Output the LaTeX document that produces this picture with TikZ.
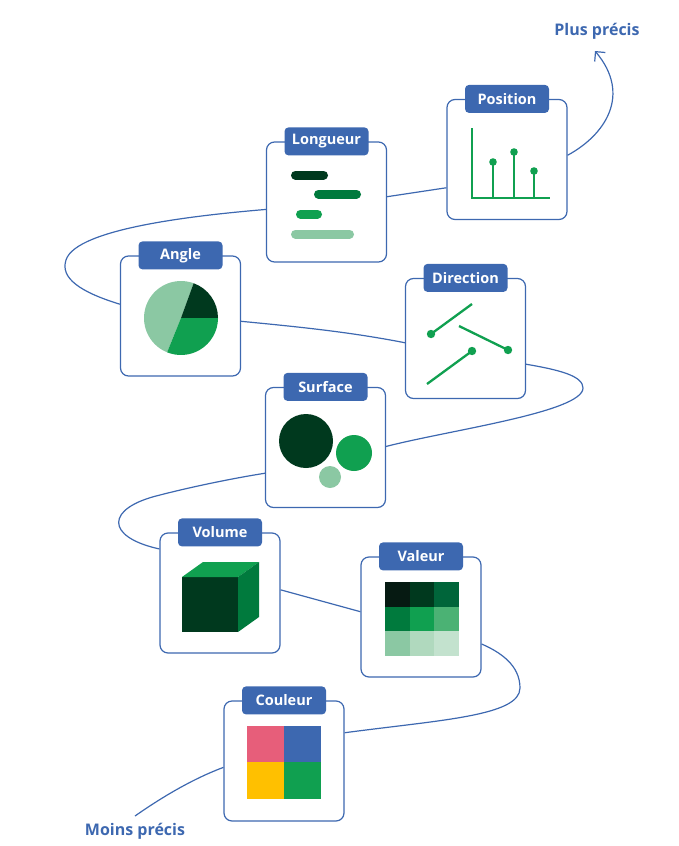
\documentclass[tikz,border=0pt]{standalone}
\usepackage{fontspec}
\setmainfont{Open Sans}
\usetikzlibrary{arrows.meta}
\definecolor{bl}{RGB}{61,104,176}
\definecolor{gA}{RGB}{6,26,18}
\definecolor{gB}{RGB}{0,57,30}
\definecolor{gC}{RGB}{0,101,58}
\definecolor{gD}{RGB}{0,122,61}
\definecolor{gE}{RGB}{16,160,80}
\definecolor{gF}{RGB}{75,178,116}
\definecolor{gG}{RGB}{139,200,163}
\definecolor{gH}{RGB}{176,217,190}
\definecolor{gI}{RGB}{195,226,206}
\definecolor{pk}{RGB}{231,94,122}
\definecolor{yl}{RGB}{255,192,0}
\tikzset{
  box/.style={draw=bl, line width=1.2pt, rounded corners=8pt, minimum width=120pt, minimum height=120pt, inner sep=0pt, fill=white},
  tab/.style={fill=bl, text=white, rounded corners=4pt, minimum width=84pt, minimum height=28pt, inner sep=0pt, font=\bfseries\fontsize{14.5}{16}\selectfont},
  conn/.style={draw=bl, line width=1.2pt},
  lbl/.style={text=bl, inner sep=0pt, font=\bfseries\fontsize{16}{18}\selectfont},
  bar/.style={line width=9pt, line cap=round},
  dirl/.style={draw=gE, line width=2.3pt},
}
\begin{document}
\begin{tikzpicture}[x=1pt,y=-1pt]
\useasboundingbox (0,0) rectangle (678,846);
% boxes
\node[box] (position) at (507,159.5) {};
\node[box] (longueur) at (326.5,202) {};
\node[box] (angle) at (180.5,316) {};
\node[box] (direction) at (465.5,338.5) {};
\node[box] (surface) at (325.5,447.5) {};
\node[box] (volume) at (220,593) {};
\node[box] (valeur) at (421,617) {};
\node[box] (couleur) at (284,761) {};
% labels
\node[lbl] (moins) at (135,831) {Moins précis};
\node[lbl] (plus) at (597,31) {Plus précis};
\coordinate (mstart) at (135,816);
\coordinate (ptip) at (595,51);
% connectors
\draw[conn] (mstart) .. controls (165,795) and (195,778) .. (couleur.186);
\draw[conn] (couleur.25) .. controls (440,720) and (520,716) .. (520,688) .. controls (520,665) and (500,652) .. (valeur.-24);
\draw[conn] (valeur.175) -- (volume.3);
\draw[conn] (volume.144) .. controls (105,537) and (105,508) .. (160,495) .. controls (195,486) and (235,478) .. (surface.203);
\draw[conn] (surface.1) .. controls (450,430) and (583,412) .. (583,388) .. controls (583,376) and (560,370) .. (direction.-23);
\draw[conn] (direction.184) .. controls (350,332) and (300,327) .. (angle.-5);
\draw[conn] (angle.169) .. controls (80,292) and (60,278) .. (66,260) .. controls (76,228) and (200,215) .. (longueur.187);
\draw[conn] (longueur.5) -- (position.205);
\draw[conn, -{Straight Barb[length=7pt,width=14pt]}] (position.4) .. controls (605,135) and (632,95) .. (ptip);
% tabs
\node[tab] (tposition) at (position.north) {Position};
\node[tab] (tlongueur) at (longueur.north) {Longueur};
\node[tab] (tangle) at (angle.north) {Angle};
\node[tab] (tdirection) at (direction.north) {Direction};
\node[tab] (tsurface) at (surface.north) {Surface};
\node[tab] (tvolume) at (volume.north) {Volume};
\node[tab] (tvaleur) at (valeur.north) {Valeur};
\node[tab] (tcouleur) at (couleur.north) {Couleur};
% Position chart
\draw[gE, line width=2.3pt] (472,128) -- (472,198) -- (550,198);
\draw[gE, line width=1.6pt] (493,198) -- (493,162) (514,198) -- (514,152) (534,198) -- (534,171);
\fill[gE] (493,162) circle (3.8) (514,152) circle (3.8) (534,171) circle (3.8);
% Longueur bars
\draw[bar, gB] (295.5,175) -- (323.5,175);
\draw[bar, gD] (318.5,194) -- (356.5,194);
\draw[bar, gE] (300.5,214) -- (317.5,214);
\draw[bar, gG] (295.5,234) -- (349.5,234);
% Angle pie
\fill[gG] (181,318) -- ++(-70:37) arc[start angle=-70, end angle=-248, radius=37] -- cycle;
\fill[gB] (181,318) -- ++(0:37) arc[start angle=0, end angle=-70, radius=37] -- cycle;
\fill[gE] (181,318) -- ++(0:37) arc[start angle=0, end angle=112, radius=37] -- cycle;
% Direction
\draw[dirl] (431,334) -- (472,304);
\draw[dirl] (459,326) -- (508,350);
\draw[dirl] (427,384) -- (472,351);
\fill[gE] (431,334) circle (4.2) (508,350) circle (4.2) (472,351) circle (4.2);
% Surface
\fill[gB] (306,441) circle (27);
\fill[gE] (354,453) circle (18);
\fill[gG] (330,477) circle (11);
% Volume cube
\fill[gB] (182,577) rectangle (238,632);
\fill[gE] (182,577) -- (203,562) -- (259,562) -- (238,577) -- cycle;
\fill[gD] (238,577) -- (259,562) -- (259,617) -- (238,632) -- cycle;
% Valeur grid
\fill[gA] (385,582) rectangle (409.7,606.7);
\fill[gB] (409.7,582) rectangle (434.3,606.7);
\fill[gC] (434.3,582) rectangle (459,606.7);
\fill[gD] (385,606.7) rectangle (409.7,631.3);
\fill[gE] (409.7,606.7) rectangle (434.3,631.3);
\fill[gF] (434.3,606.7) rectangle (459,631.3);
\fill[gG] (385,631.3) rectangle (409.7,656);
\fill[gH] (409.7,631.3) rectangle (434.3,656);
\fill[gI] (434.3,631.3) rectangle (459,656);
% Couleur grid
\fill[pk] (247,726) rectangle (284,762);
\fill[bl] (284,726) rectangle (321,762);
\fill[yl] (247,762) rectangle (284,799);
\fill[gE] (284,762) rectangle (321,799);
\end{tikzpicture}
\end{document}
